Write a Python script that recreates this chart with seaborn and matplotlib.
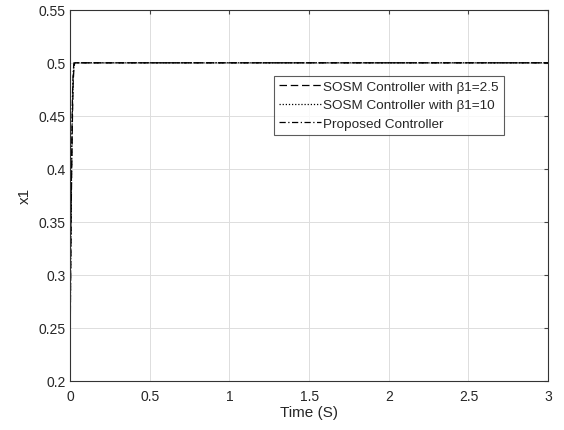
import matplotlib
matplotlib.use("Agg")
import matplotlib.pyplot as plt
import pandas as pd
import seaborn as sns

# time (s) and x1 values
t = [0.0, 0.004, 0.008, 0.012, 0.016, 0.02, 0.025, 0.03, 3.0]
x1_sosm_25 = [0.2, 0.29, 0.36, 0.41, 0.45, 0.48, 0.495, 0.5, 0.5]
x1_sosm_10 = [0.2, 0.30, 0.37, 0.42, 0.46, 0.485, 0.498, 0.5, 0.5]
x1_proposed = [0.2, 0.31, 0.38, 0.43, 0.47, 0.49, 0.5, 0.5, 0.5]

labels = ["SOSM Controller with β1=2.5", "SOSM Controller with β1=10", "Proposed Controller"]

df = pd.concat([
    pd.DataFrame({"t": t, "x1": x1_sosm_25, "ctrl": labels[0]}),
    pd.DataFrame({"t": t, "x1": x1_sosm_10, "ctrl": labels[1]}),
    pd.DataFrame({"t": t, "x1": x1_proposed, "ctrl": labels[2]}),
])

sns.set_style("white")
plt.rcParams['font.family'] = ['Liberation Sans', 'DejaVu Sans']

fig, ax = plt.subplots(figsize=(5.64, 4.31), dpi=100)
fig.subplots_adjust(left=0.124, right=0.972, top=0.975, bottom=0.114)

styles = {labels[0]: (6, 3), labels[1]: (1, 1.5), labels[2]: (5, 2, 1, 2)}
sns.lineplot(data=df, x="t", y="x1", hue="ctrl", style="ctrl",
             palette=["black"] * 3, dashes=styles, linewidth=0.9, ax=ax)

ax.set_xlim(0, 3)
ax.set_ylim(0.2, 0.55)
ax.set_xticks([0, 0.5, 1, 1.5, 2, 2.5, 3])
ax.set_xticklabels(["0", "0.5", "1", "1.5", "2", "2.5", "3"])
ax.set_yticks([0.2, 0.25, 0.3, 0.35, 0.4, 0.45, 0.5, 0.55])
ax.set_yticklabels(["0.2", "0.25", "0.3", "0.35", "0.4", "0.45", "0.5", "0.55"])
ax.grid(True, color="#dddddd", linewidth=0.7)
ax.tick_params(direction="in", length=3, labelsize=10, top=True, right=True,
               color="#444444", labelcolor="#262626")
ax.tick_params(axis="x", pad=6)
ax.tick_params(axis="y", pad=3)
for s in ax.spines.values():
    s.set_color("#333333")
    s.set_linewidth(0.8)
ax.set_xlabel("Time (S)", fontsize=11, labelpad=1, color="#262626")
ax.set_ylabel("x1", fontsize=11, labelpad=5, color="#262626")

leg = ax.legend(loc="upper left", bbox_to_anchor=(0.427, 0.822), fontsize=9.7,
                frameon=True, fancybox=False, edgecolor="#333333",
                handlelength=3.1, handletextpad=0.2, borderpad=0.35,
                labelspacing=0.45, borderaxespad=0)
leg.get_frame().set_linewidth(0.8)

fig.savefig("out.png", dpi=100)
